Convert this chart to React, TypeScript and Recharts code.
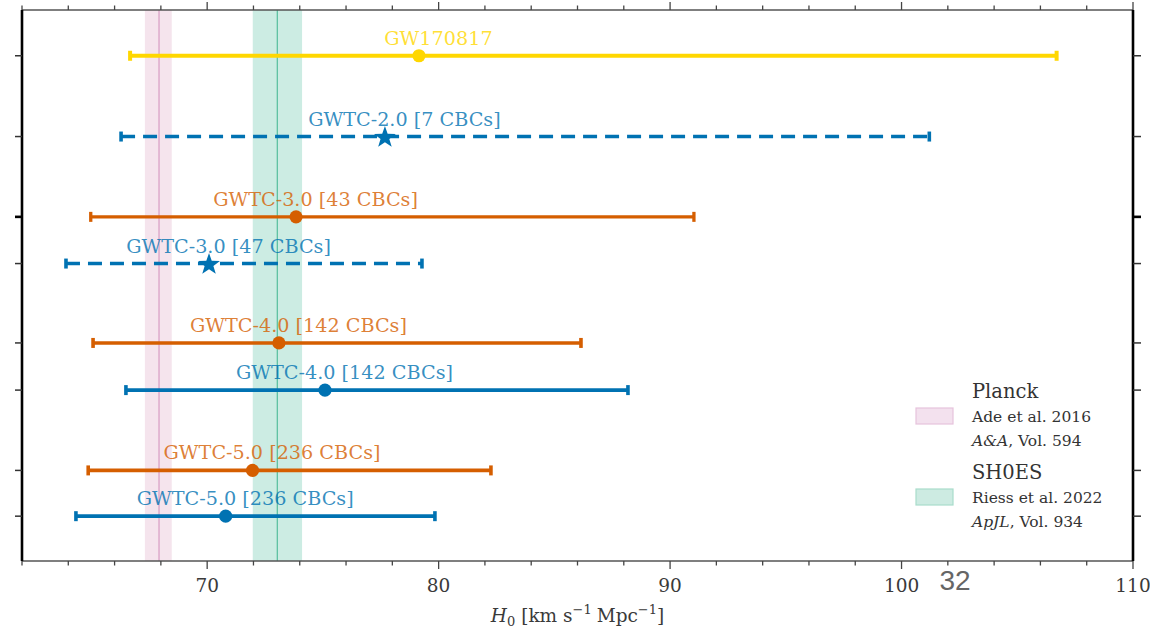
import React from "react";
import {
  ScatterChart,
  Scatter,
  XAxis,
  YAxis,
  ErrorBar,
  ReferenceArea,
  ReferenceLine,
} from "recharts";

// ---------------- data ----------------
const rowLabels = [
  "GW170817",
  "GWTC-2.0 [7 CBCs]",
  "GWTC-3.0 [43 CBCs]",
  "GWTC-3.0 [47 CBCs]",
  "GWTC-4.0 [142 CBCs]",
  "GWTC-4.0 [142 CBCs]",
  "GWTC-5.0 [236 CBCs]",
  "GWTC-5.0 [236 CBCs]",
];
const rowPositions = [10.82, 9.09, 7.37, 6.37, 4.67, 3.66, 1.94, 0.96];
const h0Median = [79.15, 77.68, 73.84, 70.08, 73.1, 75.09, 71.96, 70.8];
const h0Lower = [66.67, 66.28, 64.97, 63.9, 65.07, 66.49, 64.86, 64.33];
const h0Upper = [106.7, 101.2, 91.03, 79.28, 86.15, 88.18, 82.26, 79.84];

const bandNames = ["Planck", "SH0ES"];
const bandRefs = ["Ade et al. 2016", "Riess et al. 2022"];
const bandJournals = ["A&A", "ApJL"];
const bandVolumes = [", Vol. 594", ", Vol. 934"];
const bandLower = [67.31, 71.97];
const bandCenter = [67.92, 73.03];
const bandUpper = [68.47, 74.1];

const xTicks = [62, 64, 66, 68, 70, 72, 74, 76, 78, 80, 82, 84, 86, 88, 90, 92, 94, 96, 98, 100, 102, 104, 106, 108, 110];
const xLabelTicks = [70, 80, 90, 100, 110];
const xDomain = [62, 110];
const yDomain = [0, 11.8];
const yMajorTick = 7.37;
const axisTitle = { symbol: "H", sub: "0", unit1: "km s", unit2: "Mpc", power: "−1" };
const pageNumber = "32";

// ---------------- styles ----------------
const GOLD = "#FFD700";
const BLUE = "#0072B2";
const ORANGE = "#D55E00";
const SERIF = "'DejaVu Serif', serif";

const rowStyles = [
  { color: GOLD, marker: "circle", width: 4, dash: undefined as string | undefined },
  { color: BLUE, marker: "star", width: 3.6, dash: "14 8" },
  { color: ORANGE, marker: "circle", width: 3.3, dash: undefined },
  { color: BLUE, marker: "star", width: 3.6, dash: "14 8" },
  { color: ORANGE, marker: "circle", width: 3.6, dash: undefined },
  { color: BLUE, marker: "circle", width: 3.6, dash: undefined },
  { color: ORANGE, marker: "circle", width: 3.6, dash: undefined },
  { color: BLUE, marker: "circle", width: 3.6, dash: undefined },
];
const bandStyles = [
  { fill: "#CC79A7", line: "#D79BC3", swatch: "#F3E1EE", swatchStroke: "#E6C3DC" },
  { fill: "#009E73", line: "#55BE9D", swatch: "#CDEBE2", swatchStroke: "#A9DCCB" },
];

const rows = rowLabels.map((label, i) => ({
  label,
  x: h0Median[i],
  y: rowPositions[i],
  err: [h0Median[i] - h0Lower[i], h0Upper[i] - h0Median[i]],
}));

function starPath(cx: number, cy: number, R: number, r: number) {
  let d = "";
  for (let k = 0; k < 10; k++) {
    const ang = -Math.PI / 2 + (k * Math.PI) / 5;
    const rad = k % 2 === 0 ? R : r;
    d += (k ? "L" : "M") + (cx + rad * Math.cos(ang)).toFixed(2) + "," + (cy + rad * Math.sin(ang)).toFixed(2);
  }
  return d + "Z";
}

const makeShape = (i: number) => (props: any) => {
  const { cx, cy } = props;
  const st = rowStyles[i];
  const label = (props.payload && props.payload.label) || rowLabels[i];
  return (
    <g>
      {st.marker === "star" ? (
        <path d={starPath(cx, cy + 1, 11.5, 4.6)} fill={st.color} />
      ) : (
        <circle cx={cx} cy={cy} r={6.6} fill={st.color} />
      )}
      <text
        x={cx + 19.5}
        y={cy - 11}
        textAnchor="middle"
        fontFamily={SERIF}
        fontSize={19.2}
        fill={st.color}
        fillOpacity={0.8}
      >
        {label}
      </text>
    </g>
  );
};

const BottomTick = (props: any) => {
  const { x, y, payload } = props;
  const v = payload.value;
  const major = xLabelTicks.includes(v);
  return (
    <g>
      <line x1={x} x2={x} y1={y} y2={y + (major ? 8 : 4.5)} stroke="#444" strokeWidth={1.3} />
      {major && (
        <text x={x} y={y + 31} textAnchor="middle" fontFamily={SERIF} fontSize={18.5} fill="#3a3a3a">
          {v}
        </text>
      )}
    </g>
  );
};

const TopTick = (props: any) => {
  const { x, y, payload } = props;
  const major = xLabelTicks.includes(payload.value);
  return <line x1={x} x2={x} y1={y} y2={y - (major ? 8 : 4.5)} stroke="#444" strokeWidth={1.3} />;
};

const LeftTick = (props: any) => {
  const { x, y, payload } = props;
  const major = Math.abs(payload.value - yMajorTick) < 1e-6;
  return <line x1={x} x2={x - 7} y1={y} y2={y} stroke={major ? "#000" : "#333"} strokeWidth={major ? 2.6 : 1.5} />;
};

const RightTick = (props: any) => {
  const { x, y, payload } = props;
  const major = Math.abs(payload.value - yMajorTick) < 1e-6;
  return <line x1={x} x2={x + 8} y1={y} y2={y} stroke={major ? "#000" : "#333"} strokeWidth={major ? 2.6 : 1.5} />;
};

const AxisTitle = (props: any) => {
  const vb = props.viewBox || {};
  const cx = (vb.x || 0) + (vb.width || 0) / 2;
  const y = (vb.y || 0) + 61;
  return (
    <text x={cx} y={y} textAnchor="middle" fontFamily={SERIF} fontSize={18.5} fill="#3a3a3a">
      <tspan fontStyle="italic">{axisTitle.symbol}</tspan>
      <tspan fontSize={13} dy={4}>{axisTitle.sub}</tspan>
      <tspan dy={-4} dx={6}>{"[" + axisTitle.unit1}</tspan>
      <tspan fontSize={13} dy={-8}>{axisTitle.power}</tspan>
      <tspan dy={8} dx={5}>{axisTitle.unit2}</tspan>
      <tspan fontSize={13} dy={-8}>{axisTitle.power}</tspan>
      <tspan dy={8}>{"]"}</tspan>
    </text>
  );
};

const LegendOverlay = () => {
  const tops = [398, 479];
  return (
    <svg
      width={1150}
      height={631}
      style={{ position: "absolute", left: 0, top: 0, pointerEvents: "none" }}
    >
      {bandNames.map((name, i) => {
        const t = tops[i];
        const s = bandStyles[i];
        return (
          <g key={name}>
            <text x={972} y={t} fontFamily={SERIF} fontSize={19.5} fill="#333">
              {name}
            </text>
            <rect x={916} y={t + 10} width={37} height={16} fill={s.swatch} stroke={s.swatchStroke} strokeWidth={1.2} />
            <text x={972} y={t + 24} fontFamily={SERIF} fontSize={15.5} fill="#333">
              {bandRefs[i]}
            </text>
            <text x={972} y={t + 48} fontFamily={SERIF} fontSize={15.5} fill="#333">
              <tspan fontStyle="italic">{bandJournals[i]}</tspan>
              <tspan>{bandVolumes[i]}</tspan>
            </text>
          </g>
        );
      })}
      <text x={955} y={590} textAnchor="middle" fontFamily="'Liberation Sans', Arial, sans-serif" fontSize={28} fill="#666">
        {pageNumber}
      </text>
    </svg>
  );
};

export default function App() {
  return (
    <div style={{ position: "absolute", left: 0, top: 0, width: 1150, height: 631, background: "#fff" }}>
      <ScatterChart width={1150} height={631} margin={{ top: 0, right: 0, bottom: 0, left: 0 }}>
        <XAxis
          dataKey="x"
          type="number"
          domain={xDomain}
          allowDataOverflow
          ticks={xTicks}
          interval={0}
          height={70}
          tickSize={0}
          tickMargin={0}
          tickLine={false}
          axisLine={{ stroke: "#555", strokeWidth: 1.3 }}
          tick={(p: any) => <BottomTick {...p} />}
          label={(p: any) => <AxisTitle {...p} />}
        />
        <XAxis
          xAxisId="top"
          orientation="top"
          dataKey="x"
          type="number"
          domain={xDomain}
          allowDataOverflow
          ticks={xTicks}
          interval={0}
          height={10}
          tickSize={0}
          tickMargin={0}
          tickLine={false}
          axisLine={{ stroke: "#555", strokeWidth: 1.3 }}
          tick={(p: any) => <TopTick {...p} />}
        />
        <YAxis
          dataKey="y"
          type="number"
          domain={yDomain}
          allowDataOverflow
          ticks={rowPositions}
          interval={0}
          width={22}
          tickSize={0}
          tickMargin={0}
          tickLine={false}
          axisLine={{ stroke: "#000", strokeWidth: 2.6 }}
          tick={(p: any) => <LeftTick {...p} />}
        />
        <YAxis
          yAxisId="right"
          orientation="right"
          dataKey="y"
          type="number"
          domain={yDomain}
          allowDataOverflow
          ticks={rowPositions}
          interval={0}
          width={17}
          tickSize={0}
          tickMargin={0}
          tickLine={false}
          axisLine={{ stroke: "#000", strokeWidth: 2.6 }}
          tick={(p: any) => <RightTick {...p} />}
        />
        {bandNames.map((name, i) => (
          <ReferenceArea
            key={"area-" + name}
            x1={bandLower[i]}
            x2={bandUpper[i]}
            fill={bandStyles[i].fill}
            fillOpacity={0.2}
            stroke="none"
            ifOverflow="visible"
          />
        ))}
        {bandNames.map((name, i) => (
          <ReferenceLine
            key={"line-" + name}
            x={bandCenter[i]}
            stroke={bandStyles[i].line}
            strokeWidth={1.2}
          />
        ))}
        {rows.map((row, i) => (
          <Scatter
            key={"row-" + i}
            data={[row]}
            isAnimationActive={false}
            shape={makeShape(i)}
          >
            <ErrorBar
              dataKey="err"
              direction="x"
              width={5}
              stroke={rowStyles[i].color}
              strokeWidth={rowStyles[i].width}
              strokeDasharray={rowStyles[i].dash}
              isAnimationActive={false}
            />
          </Scatter>
        ))}
      </ScatterChart>
      <LegendOverlay />
    </div>
  );
}
